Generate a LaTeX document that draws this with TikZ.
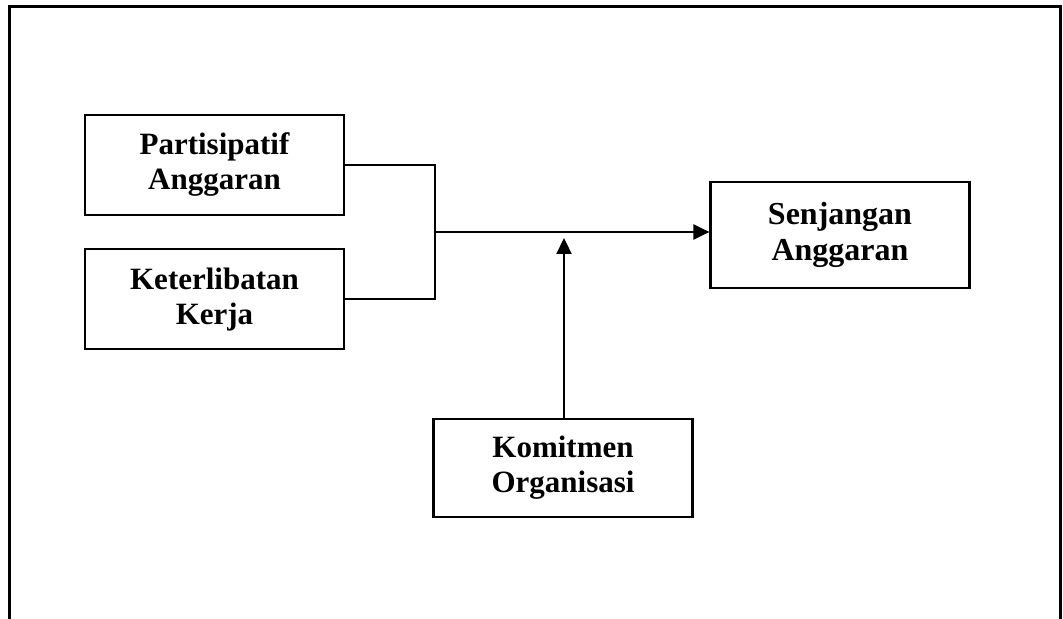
\documentclass[tikz,border=0pt]{standalone}
\usepackage{fontspec}
\setmainfont{Liberation Serif}
\usetikzlibrary{arrows.meta, positioning}

\tikzset{
    var/.style={draw, line width=1.1pt, minimum width=129.5pt, inner sep=0pt,
        align=center, font=\fontsize{15.5}{17.5}\selectfont\bfseries},
    link/.style={line width=1.1pt},
    arr/.style={link, -{Triangle[length=8pt, width=7.5pt]}}
}

\begin{document}
\begin{tikzpicture}[x=0.5pt, y=-0.5pt]
            \useasboundingbox (0, 0) rectangle (1063, 619);
            \draw[line width=1.5pt] (9, 619) -- (9, 7) -- (1060, 7) -- (1060, 619);
            \node[var, minimum height=50pt] (pa) at (214.5, 165) {Partisipatif\\Anggaran};
            \node[var, minimum height=50pt, below= 16pt of pa] (kk) {Keterlibatan\\Kerja};
            \node[var, minimum height=53pt, font=\fontsize{16}{18}\selectfont\bfseries] (sa) at (840, 235) {Senjangan\\Anggaran};
            \node[var, minimum height=49pt] (ko) at (563, 468) {Komitmen\\Organisasi};
            \coordinate (j) at (435, 232);
            \coordinate (tip) at (564, 238);
            \draw[link] (pa.east) -| (j);
            \draw[link] (kk.east) -| (j);
            \draw[arr] (j) -- (j -| sa.west);
            \draw[arr] (ko.north -| tip) -- (tip);
        \end{tikzpicture}
\end{document}
